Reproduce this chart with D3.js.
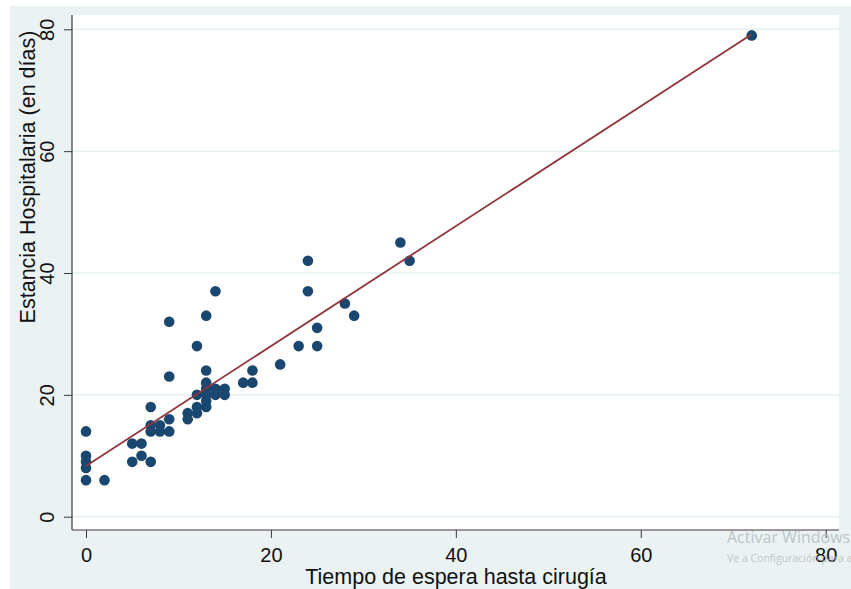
<!DOCTYPE html>
<html>
<head>
<meta charset="utf-8">
<script src="https://cdn.jsdelivr.net/npm/d3@7"></script>
<style>
  body { margin: 0; background: #fff; }
  text { font-family: "Liberation Sans", Arial, sans-serif; }
</style>
</head>
<body>
<div id="chart"></div>
<script>
// tiempo de espera (dias) y estancia hospitalaria (dias)
const espera = [0, 0, 0, 0, 0, 2, 5, 5, 6, 6, 7, 7, 7, 7, 8, 8, 9, 9, 9, 9,
  11, 11, 12, 12, 12, 12, 13, 13, 13, 13, 13, 13, 13, 14, 14, 14, 15, 15,
  17, 18, 18, 21, 23, 24, 24, 25, 25, 28, 29, 34, 35, 72];
const estancia = [14, 10, 9, 8, 6, 6, 12, 9, 12, 10, 18, 15, 14, 9, 15, 14, 32, 23, 16, 14,
  17, 16, 28, 20, 18, 17, 33, 24, 22, 21, 20, 19, 18, 37, 21, 20, 21, 20,
  22, 24, 22, 25, 28, 42, 37, 31, 28, 35, 33, 45, 42, 79];
const xTicks = [0, 20, 40, 60, 80];
const yTicks = [0, 20, 40, 60, 80];
const xTitle = 'Tiempo de espera hasta cirugía';
const yTitle = 'Estancia Hospitalaria (en días)';

const width = 851, height = 589;
const plot = {left: 72, top: 15, right: 839, bottom: 530};

const svg = d3.select('#chart').append('svg')
  .attr('width', width).attr('height', height);

// fondo gris del grafico
svg.append('rect').attr('x', 10).attr('y', 6)
  .attr('width', width - 10).attr('height', height - 6)
  .attr('fill', '#eaf2f3');
svg.append('rect').attr('x', plot.left).attr('y', plot.top)
  .attr('width', plot.right - plot.left).attr('height', plot.bottom - plot.top)
  .attr('fill', '#fff');

const x = d3.scaleLinear().domain([0, 80]).range([86, 825.7]);
const y = d3.scaleLinear().domain([0, 80]).range([516.7, 29.3]);

// lineas de cuadricula
svg.append('g').selectAll('line').data(yTicks).join('line')
  .attr('x1', plot.left).attr('x2', plot.right)
  .attr('y1', d => y(d)).attr('y2', d => y(d))
  .attr('stroke', '#e6eff1').attr('stroke-width', 1.5);

// recta ajustada (minimos cuadrados)
const mx = d3.mean(espera), my = d3.mean(estancia);
const slope = d3.sum(espera, (v, i) => (v - mx) * (estancia[i] - my)) /
  d3.sum(espera, v => (v - mx) * (v - mx));
const intercept = my - slope * mx;
const [x0, x1] = d3.extent(espera);

// puntos
svg.append('g').attr('fill', '#1a476f').selectAll('circle')
  .data(espera).join('circle')
  .attr('cx', d => x(d))
  .attr('cy', (d, i) => y(estancia[i]))
  .attr('r', 5.3);

svg.append('line')
  .attr('x1', x(x0)).attr('y1', y(intercept + slope * x0))
  .attr('x2', x(x1)).attr('y2', y(intercept + slope * x1))
  .attr('stroke', '#90353b').attr('stroke-width', 1.8);

// ejes
const axisColor = '#3a3a3a';
const yAxis = svg.append('g').attr('transform', `translate(${plot.left},0)`)
  .call(d3.axisLeft(y).tickValues(yTicks).tickSize(8).tickSizeOuter(0));
yAxis.select('.domain').remove();
yAxis.selectAll('.tick line').attr('stroke', axisColor);
yAxis.selectAll('.tick text')
  .attr('transform', 'rotate(-90)')
  .attr('x', 0).attr('y', -18).attr('dy', 0)
  .attr('text-anchor', 'middle')
  .attr('fill', '#111').style('font-size', '20px');

const xAxis = svg.append('g').attr('transform', `translate(0,${plot.bottom})`)
  .call(d3.axisBottom(x).tickValues(xTicks).tickSize(8).tickSizeOuter(0));
xAxis.select('.domain').remove();
xAxis.selectAll('.tick line').attr('stroke', axisColor);
xAxis.selectAll('.tick text')
  .attr('y', 32).attr('dy', 0)
  .attr('fill', '#111').style('font-size', '20px');

svg.append('line').attr('x1', plot.left).attr('x2', plot.left)
  .attr('y1', plot.top).attr('y2', plot.bottom)
  .attr('stroke', axisColor).attr('stroke-width', 1.2);
svg.append('line').attr('x1', plot.left).attr('x2', plot.right)
  .attr('y1', plot.bottom).attr('y2', plot.bottom)
  .attr('stroke', axisColor).attr('stroke-width', 1.2);

// titulos
svg.append('text').attr('x', 456).attr('y', 584)
  .attr('text-anchor', 'middle').attr('fill', '#111')
  .style('font-size', '21.5px').text(xTitle);
svg.append('text')
  .attr('transform', 'translate(35,177) rotate(-90)')
  .attr('text-anchor', 'middle').attr('fill', '#111')
  .style('font-size', '21.5px').text(yTitle);

// marca de agua de activacion
svg.append('text').attr('x', 727).attr('y', 543)
  .attr('fill', '#b4bbbe').attr('fill-opacity', 0.85).style('font-size', '16px')
  .style('font-family', '"Open Sans", sans-serif').text('Activar Windows');
svg.append('text').attr('x', 727).attr('y', 562)
  .attr('fill', '#b4bbbe').attr('fill-opacity', 0.85).style('font-size', '10.5px')
  .style('font-family', '"Open Sans", sans-serif')
  .text('Ve a Configuración para activar Windows.');
</script>
</body>
</html>
